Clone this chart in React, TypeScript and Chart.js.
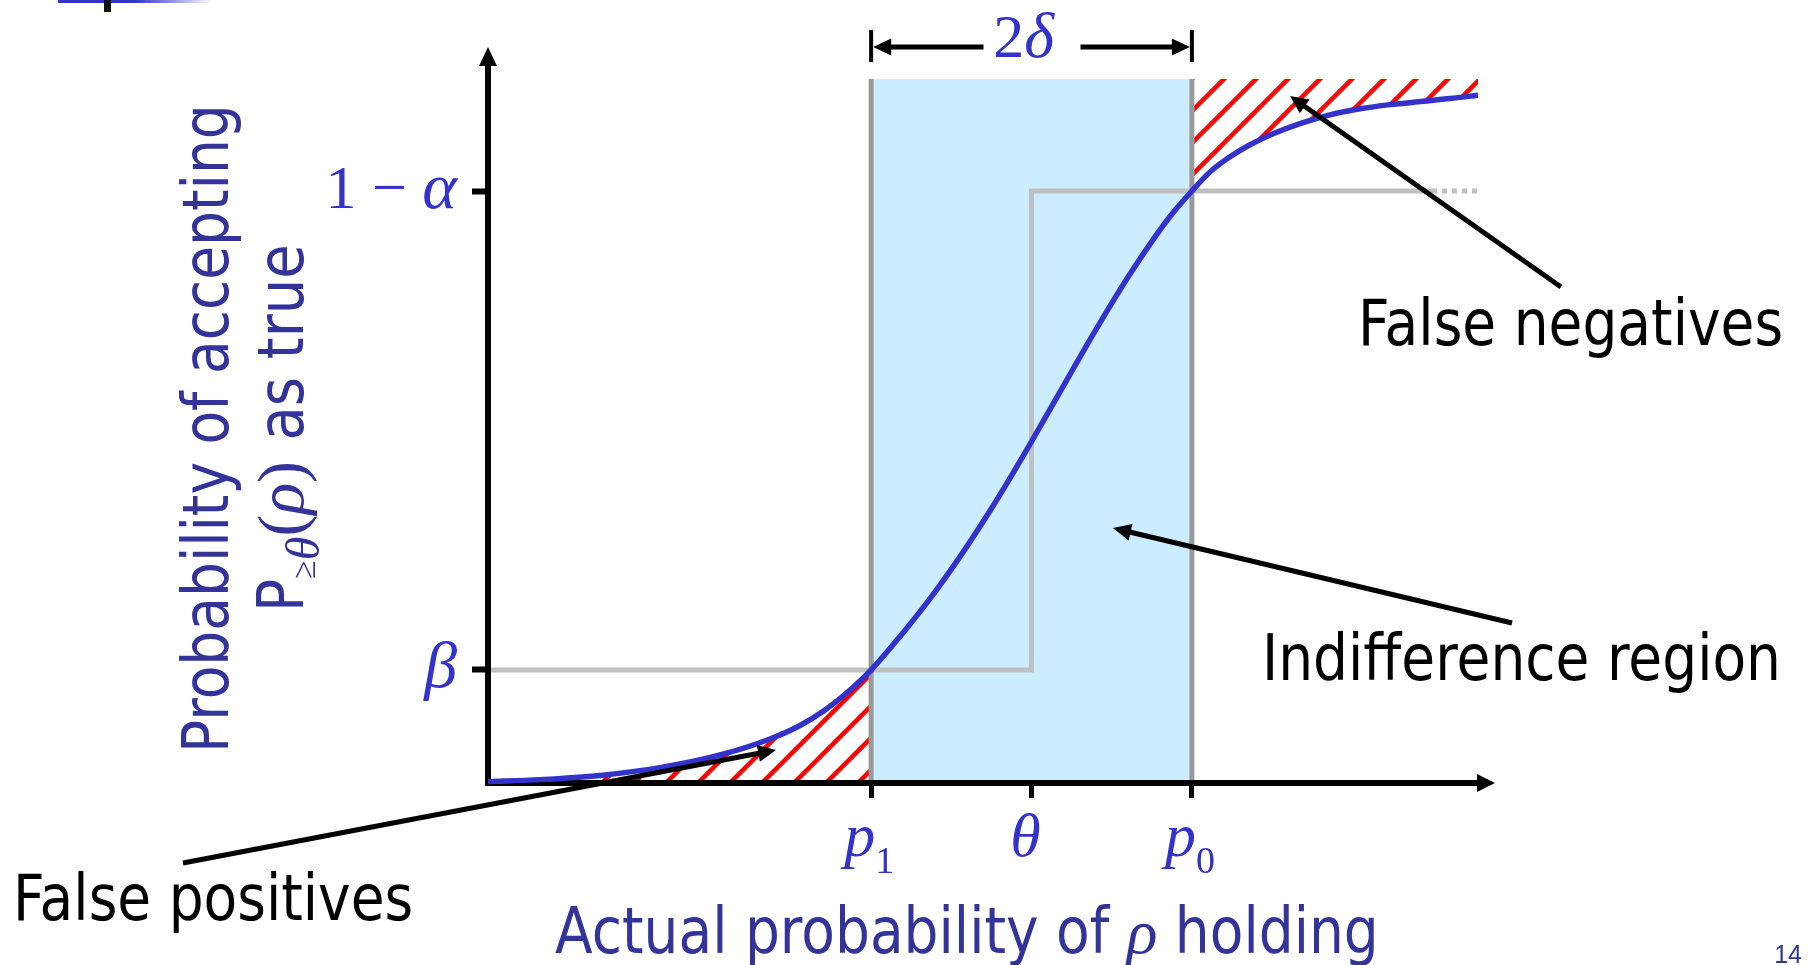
import React, { useEffect, useRef } from 'react';
import { Chart, registerables } from 'chart.js';

Chart.register(...registerables);

// ---------------- data ----------------
const curveX = [0, 0.0525, 0.1131, 0.1737, 0.2343, 0.2848, 0.3152, 0.3404, 0.3657, 0.387, 0.4162, 0.4465, 0.4768, 0.5071, 0.5273, 0.5475, 0.5677, 0.5879, 0.6081, 0.6283, 0.6485, 0.6687, 0.6889, 0.711, 0.7293, 0.7495, 0.7697, 0.7949, 0.8202, 0.8505, 0.8808, 0.9111, 0.9444, 0.9717, 1.0];
const curveY = [0.0018, 0.0047, 0.0106, 0.0214, 0.039, 0.0613, 0.0801, 0.1017, 0.1295, 0.1574, 0.2042, 0.2568, 0.3153, 0.3792, 0.4247, 0.472, 0.5205, 0.5692, 0.6174, 0.6642, 0.7088, 0.7506, 0.789, 0.8245, 0.851, 0.8721, 0.8889, 0.9053, 0.9185, 0.9306, 0.939, 0.9448, 0.9494, 0.9532, 0.9579];

const P1 = 0.387;
const THETA = 0.549;
const P0 = 0.711;
const BETA = 0.1574;
const ONE_MINUS_ALPHA = 0.8245;
const REGION_TOP = 0.9805;
const STEP_SOLID_END = 0.9535;
const X_END = 1.0;

const xTickValues = [P1, THETA, P0];
const xTickMain = ['p', 'θ', 'p'];
const xTickSub = ['1', '', '0'];
const yTickValues = [BETA, ONE_MINUS_ALPHA];

const xTitle = ['Actual probability of ', 'ρ', ' holding'];
const yTitleLine1 = 'Probability of accepting';
const yTitleLine2 = ['P', '≥', 'θ', '(', 'ρ', ')', ' ', 'as true'];
const annotations = ['False negatives', 'Indifference region', 'False positives'];
const pageNumber = '14';

// ---------------- styles ----------------
const BLUE_CURVE = '#3333CC';
const BLUE_TEXT = '#333399';
const MATH_BLUE = '#3333CC';
const SANS = '64px "DejaVu Sans"';
const SX = 0.86;
const MR = '62px "Liberation Serif"';
const MI = 'italic 62px "Liberation Serif"';
const SUB = '38px "Liberation Serif"';

type Run = { t: string; f: string; sx?: number; dy?: number };

function drawRuns(ctx: CanvasRenderingContext2D, runs: Run[], x: number, y: number, align: 'left' | 'center' | 'right', color: string) {
  ctx.fillStyle = color;
  ctx.textBaseline = 'alphabetic';
  ctx.textAlign = 'left';
  const ws = runs.map((r) => {
    ctx.font = r.f;
    return ctx.measureText(r.t).width * (r.sx ?? 1);
  });
  const tot = ws.reduce((s, v) => s + v, 0);
  let cx = align === 'left' ? x : align === 'center' ? x - tot / 2 : x - tot;
  runs.forEach((r, i) => {
    ctx.font = r.f;
    if (r.sx && r.sx !== 1) ctx.fillText(r.t, cx, y + (r.dy || 0), ws[i]);
    else ctx.fillText(r.t, cx, y + (r.dy || 0));
    cx += ws[i];
  });
}

function arrow(ctx: CanvasRenderingContext2D, x1: number, y1: number, x2: number, y2: number, w = 5, hl = 18, hw = 8.5) {
  const ang = Math.atan2(y2 - y1, x2 - x1);
  const c = Math.cos(ang), s = Math.sin(ang);
  const bx = x2 - hl * c, by = y2 - hl * s;
  ctx.strokeStyle = '#000';
  ctx.fillStyle = '#000';
  ctx.lineWidth = w;
  ctx.lineCap = 'butt';
  ctx.beginPath();
  ctx.moveTo(x1, y1);
  ctx.lineTo(bx + 2 * c, by + 2 * s);
  ctx.stroke();
  ctx.beginPath();
  ctx.moveTo(x2, y2);
  ctx.lineTo(bx + hw * s, by - hw * c);
  ctx.lineTo(bx - hw * s, by + hw * c);
  ctx.closePath();
  ctx.fill();
}

function makeHatch(ctx: CanvasRenderingContext2D, phase: number) {
  const c = document.createElement('canvas');
  c.width = 32;
  c.height = 32;
  const g = c.getContext('2d')!;
  g.strokeStyle = '#FF0000';
  g.lineWidth = 4.5;
  for (let k = -2; k <= 3; k++) {
    const cc = phase + 32 * k;
    g.beginPath();
    g.moveTo(cc + 10, -10);
    g.lineTo(cc - 42, 42);
    g.stroke();
  }
  return ctx.createPattern(c, 'repeat')!;
}

const CURVE_INDEX = 6;

export default function App() {
  const ref = useRef<HTMLCanvasElement>(null);

  useEffect(() => {
    document.body.style.margin = '0';
    document.body.style.overflow = 'hidden';
    const canvas = ref.current!;
    const ctx0 = canvas.getContext('2d')!;
    const hatchTop = makeHatch(ctx0, 23);
    const hatchBottom = makeHatch(ctx0, 9);

    const curve = curveX.map((x, i) => ({ x, y: curveY[i] }));
    const lowerPart = curve.filter((p) => p.x <= P1);
    const upperPart = curve.filter((p) => p.x >= P0);

    const overlay = {
      id: 'overlay',
      beforeDatasetDraw(chart: any, args: any) {
        if (args.index === CURVE_INDEX) return false;
        return true;
      },
      afterDraw(chart: any) {
        const ctx: CanvasRenderingContext2D = chart.ctx;
        const a = chart.chartArea;
        const xs = chart.scales.x;
        const ys = chart.scales.y;

        // curve on top of the axes
        ctx.save();
        ctx.beginPath();
        ctx.rect(a.left - 4, a.top - 4, a.right - a.left + 8, a.bottom - a.top + 8);
        ctx.clip();
        chart.getDatasetMeta(CURVE_INDEX).controller.draw();
        ctx.restore();

        ctx.save();
        // axis arrowheads
        ctx.fillStyle = '#000';
        ctx.beginPath();
        ctx.moveTo(a.left, a.top - 18);
        ctx.lineTo(a.left - 9, a.top + 1);
        ctx.lineTo(a.left + 9, a.top + 1);
        ctx.closePath();
        ctx.fill();
        ctx.beginPath();
        ctx.moveTo(a.right + 17, a.bottom);
        ctx.lineTo(a.right - 1, a.bottom - 9);
        ctx.lineTo(a.right - 1, a.bottom + 9);
        ctx.closePath();
        ctx.fill();

        // x tick labels
        xTickValues.forEach((v, i) => {
          const px = xs.getPixelForValue(v);
          const runs: Run[] = [{ t: xTickMain[i], f: MI }];
          if (xTickSub[i]) runs.push({ t: xTickSub[i], f: SUB, dy: 17 });
          drawRuns(ctx, runs, px - (xTickSub[i] ? 2 : 6), a.bottom + 73, 'center', MATH_BLUE);
        });

        // y tick labels
        const yLabelRuns: Run[][] = [
          [{ t: 'β', f: 'italic 66px "Liberation Serif"' }],
          [
            { t: '1 ', f: MR },
            { t: '− ', f: MR },
            { t: 'α', f: 'italic 66px "Liberation Serif"' },
          ],
        ];
        yTickValues.forEach((v, i) => {
          const py = ys.getPixelForValue(v);
          drawRuns(ctx, yLabelRuns[i], a.left - 31, py + 17, 'right', MATH_BLUE);
        });

        // 2δ bracket
        const x1 = xs.getPixelForValue(P1);
        const x2 = xs.getPixelForValue(P0);
        const mid = (x1 + x2) / 2;
        ctx.fillStyle = '#000';
        ctx.fillRect(x1 - 2, 30, 4, 32);
        ctx.fillRect(x2 - 2, 30, 4, 32);
        arrow(ctx, mid - 48, 47, x1 + 2, 47, 5, 18, 8.5);
        arrow(ctx, mid + 49, 47, x2 - 2, 47, 5, 18, 8.5);
        drawRuns(ctx, [{ t: '2', f: MR }, { t: 'δ', f: 'italic 64px "Liberation Serif"' }], mid - 8, 57, 'center', MATH_BLUE);

        // x title
        drawRuns(
          ctx,
          [
            { t: xTitle[0], f: SANS, sx: SX },
            { t: xTitle[1], f: 'italic 64px "Liberation Serif"' },
            { t: xTitle[2], f: SANS, sx: SX },
          ],
          555,
          953,
          'left',
          BLUE_TEXT
        );

        // y title (rotated)
        ctx.save();
        ctx.translate(228, 753);
        ctx.rotate(-Math.PI / 2);
        drawRuns(ctx, [{ t: yTitleLine1, f: SANS, sx: SX }], 0, 0, 'left', BLUE_TEXT);
        ctx.restore();
        ctx.save();
        ctx.translate(303, 612);
        ctx.rotate(-Math.PI / 2);
        drawRuns(
          ctx,
          [
            { t: yTitleLine2[0], f: SANS, sx: SX },
            { t: yTitleLine2[1], f: '34px "Liberation Serif"', dy: 12 },
            { t: yTitleLine2[2], f: 'italic 48px "Liberation Serif"', dy: 16 },
            { t: yTitleLine2[3], f: '66px "Liberation Serif"' },
            { t: yTitleLine2[4], f: 'italic 66px "Liberation Serif"' },
            { t: yTitleLine2[5], f: '66px "Liberation Serif"' },
            { t: yTitleLine2[6], f: SANS },
            { t: yTitleLine2[7], f: SANS, sx: 0.875 },
          ],
          0,
          0,
          'left',
          BLUE_TEXT
        );
        ctx.restore();

        // annotations
        drawRuns(ctx, [{ t: annotations[0], f: SANS, sx: SX }], 1358, 345, 'left', '#000');
        drawRuns(ctx, [{ t: annotations[1], f: SANS, sx: SX }], 1262, 680, 'left', '#000');
        drawRuns(ctx, [{ t: annotations[2], f: SANS, sx: SX }], 13, 920, 'left', '#000');
        arrow(ctx, 1561, 287, 1290, 96);
        arrow(ctx, 1512, 623, 1113, 528);
        arrow(ctx, 183, 863, 776, 750);

        // page number
        ctx.font = '25px "Liberation Sans"';
        ctx.fillStyle = BLUE_TEXT;
        ctx.textAlign = 'right';
        ctx.fillText(pageNumber, 1802, 963);

        // slide title remnant
        const g = ctx.createLinearGradient(135, 0, 213, 0);
        g.addColorStop(0, 'rgba(51,51,204,1)');
        g.addColorStop(1, 'rgba(51,51,204,0)');
        ctx.fillStyle = '#3333CC';
        ctx.fillRect(58, 0, 77, 3);
        ctx.fillStyle = g;
        ctx.fillRect(135, 0, 78, 3);
        ctx.fillStyle = '#111';
        ctx.fillRect(104, 0, 7, 12);
        ctx.restore();
      },
    };

    const chart = new Chart(canvas, {
      type: 'scatter',
      data: {
        datasets: [
          {
            // indifference region
            data: [
              { x: P1, y: REGION_TOP },
              { x: P0, y: REGION_TOP },
            ],
            showLine: true,
            borderWidth: 0,
            backgroundColor: '#CCECFF',
            fill: 'origin',
            pointRadius: 0,
            order: 10,
          },
          {
            data: lowerPart,
            showLine: true,
            borderWidth: 0,
            backgroundColor: hatchBottom,
            fill: 'origin',
            cubicInterpolationMode: 'monotone',
            pointRadius: 0,
            order: 9,
          },
          {
            data: upperPart,
            showLine: true,
            borderWidth: 0,
            backgroundColor: hatchTop,
            fill: { value: REGION_TOP },
            cubicInterpolationMode: 'monotone',
            pointRadius: 0,
            order: 9,
          },
          {
            // ideal step response
            data: [
              { x: 0, y: BETA },
              { x: THETA, y: BETA },
              { x: THETA, y: ONE_MINUS_ALPHA },
              { x: STEP_SOLID_END, y: ONE_MINUS_ALPHA },
              { x: X_END, y: ONE_MINUS_ALPHA },
            ],
            showLine: true,
            borderColor: '#C0C0C0',
            borderWidth: 5,
            borderJoinStyle: 'miter',
            pointRadius: 0,
            fill: false,
            segment: { borderDash: (c: any) => (c.p0DataIndex === 3 ? [5, 5] : undefined) },
            order: 8,
          },
          {
            data: [
              { x: P1, y: 0 },
              { x: P1, y: REGION_TOP },
            ],
            showLine: true,
            borderColor: '#999999',
            borderWidth: 5,
            pointRadius: 0,
            fill: false,
            order: 7,
          },
          {
            data: [
              { x: P0, y: 0 },
              { x: P0, y: REGION_TOP },
            ],
            showLine: true,
            borderColor: '#999999',
            borderWidth: 5,
            pointRadius: 0,
            fill: false,
            order: 7,
          },
          {
            // operating characteristic curve
            data: curve,
            showLine: true,
            borderColor: BLUE_CURVE,
            borderWidth: 5.5,
            cubicInterpolationMode: 'monotone',
            pointRadius: 0,
            fill: false,
            order: 1,
          },
        ],
      } as any,
      options: {
        responsive: false,
        animation: false,
        events: [],
        layout: { padding: { left: 0, top: 65, right: 338, bottom: 0 } },
        plugins: {
          legend: { display: false },
          tooltip: { enabled: false },
          title: { display: false },
        },
        scales: {
          x: {
            type: 'linear',
            position: 'bottom',
            min: 0,
            max: X_END,
            afterBuildTicks: (s: any) => {
              s.ticks = xTickValues.map((v) => ({ value: v }));
            },
            afterFit: (s: any) => {
              s.height = 182;
            },
            ticks: { display: false },
            grid: {
              display: true,
              drawOnChartArea: false,
              drawTicks: true,
              tickLength: 15,
              tickWidth: 5,
              tickColor: '#000',
              z: 1,
            },
            border: { display: true, color: '#000', width: 6, z: 1 },
          },
          y: {
            type: 'linear',
            position: 'left',
            min: 0,
            max: 1,
            afterBuildTicks: (s: any) => {
              s.ticks = yTickValues.map((v) => ({ value: v }));
            },
            afterFit: (s: any) => {
              s.width = 488;
            },
            ticks: { display: false },
            grid: {
              display: true,
              drawOnChartArea: false,
              drawTicks: true,
              tickLength: 16,
              tickWidth: 6,
              tickColor: '#000',
              z: 1,
            },
            border: { display: true, color: '#000', width: 6, z: 1 },
          },
        },
      } as any,
      plugins: [overlay as any],
    });
    return () => chart.destroy();
  }, []);

  return (
    <div style={{ width: 1816, height: 965, background: '#fff', overflow: 'hidden' }}>
      <canvas ref={ref} width={1816} height={965} style={{ display: 'block', width: 1816, height: 965 }} />
    </div>
  );
}
